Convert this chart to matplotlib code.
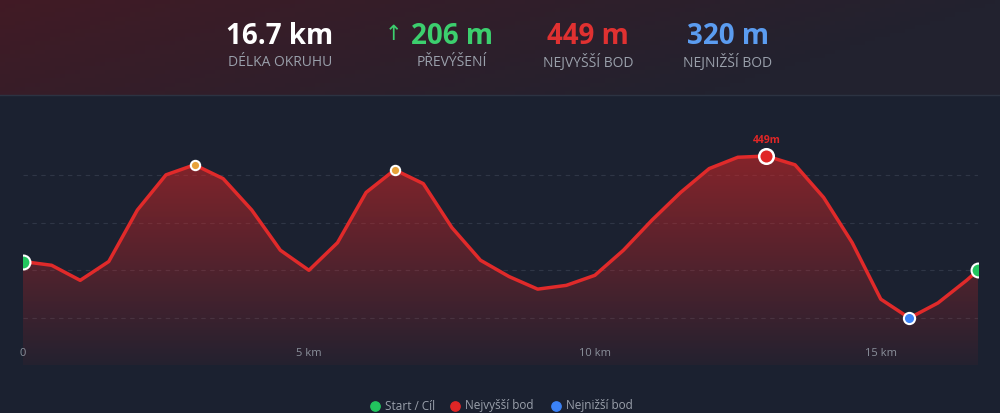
import numpy as np
import matplotlib
matplotlib.use("Agg")
import matplotlib.pyplot as plt
from matplotlib.colors import LinearSegmentedColormap

plt.rcParams['font.family'] = ['Open Sans', 'DejaVu Sans']

distance_km = [0, 0.5, 1, 1.5, 2, 2.5, 3, 3.5, 4, 4.5, 5, 5.5, 6, 6.5, 7, 7.5, 8, 8.5,
               9, 9.5, 10, 10.5, 11, 11.5, 12, 12.5, 13, 13.5, 14, 14.5, 15, 15.5, 16, 16.5, 16.7]
elevation_m = [365, 362, 350, 365, 406, 434, 442, 431, 406, 374, 358, 380, 420, 438, 427, 392, 366, 353,
               343, 346, 354, 374, 398, 420, 439, 448, 449, 442, 416, 380, 335, 320, 332, 350, 358]
peak_idx = [6, 13]
xticks = [0, 5, 10, 15]
xtick_labels = ["0", "5 km", "10 km", "15 km"]
grid_levels = [320, 358, 396, 434]
stat_values = ["16.7 km", "206 m", "449 m", "320 m"]
stat_labels = ["DÉLKA OKRUHU", "PŘEVÝŠENÍ", "NEJVYŠŠÍ BOD", "NEJNIŽŠÍ BOD"]
stat_colors = ["#ffffff", "#3ccf6e", "#e03131", "#5b9cf0"]
stat_x = [0.280, 0.452, 0.588, 0.728]
legend_labels = ["Start / Cíl", "Nejvyšší bod", "Nejnižší bod"]
legend_colors = ["#22c55e", "#e02626", "#3b82f6"]

x = np.array(distance_km); y = np.array(elevation_m)

fig = plt.figure(figsize=(10, 4.13), dpi=100)
fig.patch.set_facecolor("#1b2130")

bg = fig.add_axes([0, 0, 1, 1]); bg.set_axis_off()
gx = np.linspace(0, 1, 200)[None, :]
gy = np.linspace(0, 1, 100)[:, None]
base = np.array([0x1b, 0x21, 0x30]) / 255
red = np.array([0x45, 0x1a, 0x24]) / 255
dark = np.array([0x22, 0x22, 0x2f]) / 255
w = np.clip((1 - gx) * 0.9 - gy * 1.2, 0, 1)
header = (gy < 0.23)
hmix = w[..., None] * red + (1 - w[..., None]) * dark
mix = np.where(header[..., None], hmix, base)
mix = np.broadcast_to(mix, (100, 200, 3))
bg.imshow(mix, extent=[0, 1, 0, 1], aspect='auto', origin='upper')
bg.plot([0, 1], [1 - 95/413, 1 - 95/413], color="#2c3342", lw=1)
bg.set_xlim(0, 1); bg.set_ylim(0, 1)

for v, l, c, sx in zip(stat_values, stat_labels, stat_colors, stat_x):
    fig.text(sx, 1 - 36/413, v, color=c, fontsize=20, fontweight='bold', ha='center', va='center')
    fig.text(sx, 1 - 62/413, l, color="#9aa0ab", fontsize=10, ha='center', va='center')
fig.text(0.393, 1 - 35/413, "↑", color=stat_colors[1], fontsize=15, ha='center', va='center')

ax = fig.add_axes([0.023, 1 - 365/413, 0.955, 265/413])
ax.set_facecolor("none")
ax.set_xlim(0, 16.7); ax.set_ylim(282.6, 493.6)
ax.set_axis_off()
for g in grid_levels:
    ax.axhline(g, color="#2f3646", lw=0.8, ls=(0, (4, 4)), zorder=1)

cmap = LinearSegmentedColormap.from_list("f", [(0.86, 0.15, 0.15, 0.05), (0.86, 0.15, 0.15, 0.55)])
grad = np.linspace(0, 1, 256)[:, None]
im = ax.imshow(grad, extent=[0, 16.7, 282.6, 449], origin='lower', aspect='auto', cmap=cmap, zorder=2)
poly = ax.fill_between(x, y, 282.6, color='none')
im.set_clip_path(poly.get_paths()[0], transform=ax.transData)
ax.plot(x, y, color="#e02a2a", lw=2.5, zorder=3)

for i in peak_idx:
    ax.scatter(x[i], y[i], s=45, color="#e8a23a", edgecolor="white", lw=1.5, zorder=4)
imax = int(np.argmax(y)); imin = int(np.argmin(y))
ax.scatter(x[imax], y[imax], s=110, color="#e02626", edgecolor="white", lw=1.8, zorder=4)
ax.scatter(x[imin], y[imin], s=65, color="#3b82f6", edgecolor="white", lw=1.5, zorder=4)
ax.scatter([x[0], x[-1]], [y[0], y[-1]], s=100, color="#22c55e", edgecolor="white", lw=1.5, zorder=4)
ax.annotate(f"{y[imax]}m", (x[imax], y[imax]), xytext=(0, 7), textcoords='offset points',
            ha='center', va='bottom', color="#e02626", fontsize=7.5, fontweight='bold')
for t, l in zip(xticks, xtick_labels):
    ax.text(t, 292, l, color="#8a909b", fontsize=8, ha='center', va='center')

lx = [0.375, 0.455, 0.556]
for px, l, c in zip(lx, legend_labels, legend_colors):
    bg.scatter(px, 1 - 406/413, s=45, color=c, zorder=5)
    bg.text(px + 0.01, 1 - 406/413, l, color="#9aa0ab", fontsize=8.5, va='center', ha='left')

fig.savefig("out.png", dpi=100, facecolor=fig.get_facecolor())
